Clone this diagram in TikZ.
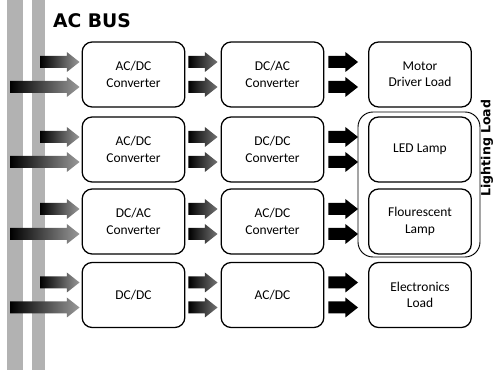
\documentclass[tikz,border=0pt]{standalone}
\usepackage{fontspec}
\setmainfont{Carlito}
\newfontfamily\headfont{DejaVu Sans}
\usetikzlibrary{calc}

\tikzset{
  box/.style={draw, rounded corners=0.3cm, line width=1.1pt, minimum width=3.08cm,
    minimum height=1.95cm, align=center, font=\fontsize{11.5}{14}\selectfont},
  busarr/.style={left color=black, right color=black!40},
  midarr/.style={left color=black, right color=black!55},
  loadarr/.style={fill=black},
}
% block arrow from #2 to #3 (same height)
\newcommand{\blkarrow}[3]{%
  \path[#1] let \p1=(#2), \p2=(#3) in
    (\x1,\y1+0.18cm) -- (\x2-0.38cm,\y1+0.18cm) -- (\x2-0.38cm,\y1+0.3cm) -- (\x2,\y1)
    -- (\x2-0.38cm,\y1-0.3cm) -- (\x2-0.38cm,\y1-0.18cm) -- (\x1,\y1-0.18cm) -- cycle;}

\begin{document}
\begin{tikzpicture}[x=0.03cm,y=-0.03cm]
\useasboundingbox (0,0) rectangle (495,370);
% bus bars
\fill[black!30] (7,0) rectangle (23,370);
\fill[black!30] (32,0) rectangle (45,370);
\coordinate (busA) at (10,0);
\coordinate (busB) at (40,0);
\node[anchor=west, font=\headfont\bfseries\fontsize{16}{18}\selectfont] (title) at (49,21) {AC BUS};

% lighting group
\node[draw, rounded corners=0.45cm, line width=0.8pt, minimum width=3.66cm, minimum height=4.35cm] (light) at (419,184.5) {};
\node[rotate=90, font=\headfont\bfseries\fontsize{10.7}{12}\selectfont] (lightlbl) at (487,148) {Lighting Load};

\node[box] (first1) at (133.5,74.5) {AC/DC\\Converter};
\node[box] (second1) at (272.5,74.5) {DC/AC\\Converter};
\node[box] (load1) at (420,74.5) {Motor\\Driver Load};
\node[box] (first2) at (133.5,149.5) {AC/DC\\Converter};
\node[box] (second2) at (272.5,149.5) {DC/DC\\Converter};
\node[box] (load2) at (420,149.5) {LED Lamp};
\node[box] (first3) at (133.5,221.5) {DC/AC\\Converter};
\node[box] (second3) at (272.5,221.5) {AC/DC\\Converter};
\node[box] (load3) at (420,221.5) {Flourescent\\Lamp};
\node[box] (first4) at (133.5,295) {DC/DC};
\node[box] (second4) at (272.5,295) {AC/DC};
\node[box] (load4) at (420,295) {Electronics\\Load};

\foreach \r in {1,2,3,4}{
  \blkarrow{busarr}{$(busB|-first\r.west)+(0,-12.5)$}{$(first\r.west)+(-2,-12.5)$}
  \blkarrow{busarr}{$(busA|-first\r.west)+(0,12.5)$}{$(first\r.west)+(-2,12.5)$}
  \foreach \d in {-12.5,12.5}{
    \blkarrow{midarr}{$(first\r.east)+(3,\d)$}{$(second\r.west)+(-3,\d)$}
    \blkarrow{loadarr}{$(second\r.east)+(4,\d)$}{$(load\r.west)+(-10,\d)$}
  }
}
\end{tikzpicture}
\end{document}
